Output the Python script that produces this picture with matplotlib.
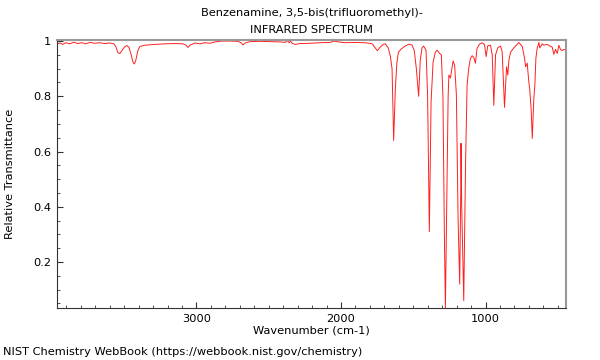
import matplotlib
matplotlib.use("Agg")
import matplotlib.pyplot as plt
from matplotlib.ticker import MultipleLocator, FormatStrFormatter

# ── Data ──────────────────────────────────────────────────────────────────────

TITLE_NAME = "Benzenamine, 3,5-bis(trifluoromethyl)-"
TITLE_KIND = "INFRARED SPECTRUM"
FOOTER     = "NIST Chemistry WebBook (https://webbook.nist.gov/chemistry)"

wavenumber = [
    3965, 3946, 3925, 3905, 3877, 3849, 3822, 3794, 3766, 3738,
    3704, 3669, 3634, 3600, 3572, 3558, 3544, 3530, 3517, 3499,
    3482, 3468, 3454, 3440, 3430, 3420, 3406, 3392, 3357, 3288,
    3219, 3149, 3094, 3073, 3059, 3045, 3011, 2976, 2941, 2907,
    2872, 2824, 2768, 2713, 2692, 2678, 2664, 2630, 2560, 2491,
    2422, 2387, 2373, 2359, 2349, 2339, 2318, 2283, 2214, 2145,
    2075, 2048, 2020, 1971, 1902, 1833, 1784, 1763, 1749, 1729,
    1708, 1694, 1673, 1659, 1647, 1636, 1624, 1614, 1603, 1582,
    1562, 1534, 1509, 1493, 1479, 1463, 1452, 1440, 1429, 1412,
    1401, 1389, 1377, 1363, 1347, 1336, 1318, 1306, 1295, 1285,
    1278, 1269, 1259, 1254, 1243, 1225, 1214, 1202, 1190, 1179,
    1172, 1170, 1165, 1151, 1139, 1128, 1117, 1105, 1093, 1082,
    1070, 1059, 1041, 1024, 1008, 996, 985, 966, 954, 943,
    931, 915, 896, 885, 869, 855, 846, 839, 827, 804,
    781, 770, 746, 730, 723, 712, 701, 694, 684, 677,
    666, 659, 652, 643, 631, 625, 608, 597, 574, 551,
    539, 528, 516, 504, 493, 482, 470, 458, 445,
]

transmittance = [
    0.990, 0.993, 0.988, 0.994, 0.990, 0.996, 0.991, 0.994, 0.990, 0.995,
    0.992, 0.994, 0.991, 0.993, 0.990, 0.980, 0.958, 0.955, 0.965, 0.978,
    0.984, 0.978, 0.955, 0.925, 0.917, 0.930, 0.965, 0.980, 0.985, 0.988,
    0.990, 0.991, 0.990, 0.985, 0.977, 0.985, 0.993, 0.990, 0.994, 0.992,
    0.997, 1.000, 1.000, 0.999, 0.994, 0.986, 0.993, 0.998, 0.999, 0.998,
    0.997, 0.995, 1.003, 0.994, 1.000, 0.992, 0.988, 0.991, 0.992, 0.994,
    0.995, 1.000, 0.997, 0.994, 0.995, 0.994, 0.990, 0.975, 0.965, 0.978,
    0.988, 0.990, 0.975, 0.945, 0.900, 0.640, 0.830, 0.920, 0.960, 0.972,
    0.980, 0.988, 0.986, 0.965, 0.900, 0.800, 0.930, 0.975, 0.982, 0.967,
    0.800, 0.310, 0.780, 0.925, 0.960, 0.967, 0.955, 0.950, 0.800, 0.300,
    0.033, 0.400, 0.800, 0.877, 0.866, 0.928, 0.913, 0.805, 0.350, 0.120,
    0.450, 0.630, 0.400, 0.060, 0.540, 0.840, 0.900, 0.937, 0.947, 0.941,
    0.920, 0.974, 0.989, 0.994, 0.988, 0.944, 0.983, 0.985, 0.950, 0.767,
    0.950, 0.976, 0.982, 0.960, 0.760, 0.907, 0.877, 0.930, 0.960, 0.976,
    0.988, 0.995, 0.980, 0.937, 0.907, 0.920, 0.853, 0.823, 0.745, 0.647,
    0.793, 0.840, 0.937, 0.974, 0.995, 0.975, 0.990, 0.985, 0.988, 0.981,
    0.978, 0.952, 0.970, 0.955, 0.985, 0.970, 0.965, 0.970, 0.968,
]

X_RANGE = (3965, 445)
Y_RANGE = (0.033, 1.004)
FS      = 8.2

# ── Plot ──────────────────────────────────────────────────────────────────────

fig = plt.figure(figsize=(6, 3.6), dpi=100)
ax = fig.add_axes([0.095, 0.144, 0.848, 0.745])

ax.plot(wavenumber, transmittance, color="#ff2020", lw=0.7)

ax.set_xlim(*X_RANGE)
ax.set_ylim(*Y_RANGE)

ax.xaxis.set_major_locator(MultipleLocator(1000))
ax.xaxis.set_minor_locator(MultipleLocator(100))
ax.yaxis.set_major_locator(MultipleLocator(0.2))
ax.yaxis.set_minor_locator(MultipleLocator(0.05))
ax.yaxis.set_major_formatter(FormatStrFormatter("%g"))

ax.tick_params(which="both", direction="in", top=False, right=False,
               labelsize=FS, color="#333333")
ax.tick_params(which="major", length=4, pad=4)
ax.tick_params(which="minor", length=2.5)

for side in ("top", "right"):
    ax.spines[side].set_color("#999999")
    ax.spines[side].set_linewidth(1.5)
for side in ("left", "bottom"):
    ax.spines[side].set_color("#333333")

ax.set_xlabel("Wavenumber (cm-1)", fontsize=FS, labelpad=1)
ax.set_ylabel("Relative Transmittance", fontsize=FS, labelpad=13)

fig.text(0.52, 0.965, TITLE_NAME, ha="center", va="center", fontsize=FS)
fig.text(0.52, 0.918, TITLE_KIND, ha="center", va="center", fontsize=FS)
fig.text(0.005, 0.022, FOOTER, ha="left", va="center", fontsize=FS)

fig.savefig("out.png", dpi=100)
